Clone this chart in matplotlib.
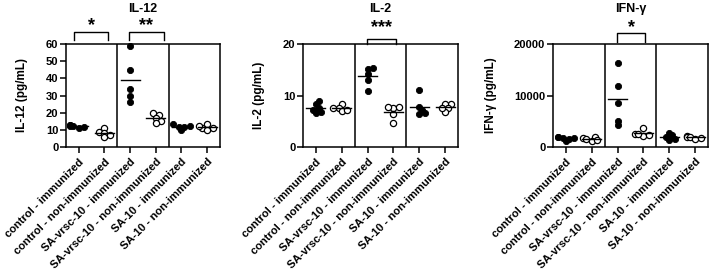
import numpy as np
import matplotlib
matplotlib.use('Agg')
import matplotlib.pyplot as plt
import matplotlib.transforms as mtransforms

plt.rcParams['font.family'] = ['Liberation Sans', 'DejaVu Sans']
plt.rcParams['font.weight'] = 'bold'

groups = ['control - immunized', 'control - non-immunized',
          'SA-vrsc-10 - immunized', 'SA-vrsc-10 - non-immunized',
          'SA-10 - immunized', 'SA-10 - non-immunized']
filled = [True, False, True, False, True, False]

il12 = [[13, 12.3, 12, 11.6, 11, 12.6],
        [11.2, 9, 8.3, 6, 7],
        [59, 45, 34, 30, 26],
        [20, 18.8, 17, 15.2, 14],
        [13.2, 12, 11.5, 10, 11.8],
        [13.5, 11.3, 11, 10, 12]]
il2 = [[9, 8.4, 7.5, 6.7, 6.6, 7.1],
       [8.3, 7.5, 7, 7.2, 7.6],
       [14.2, 15.2, 15.3, 13, 10.9],
       [7.5, 7.7, 6.5, 4.7, 7.8],
       [11.1, 7.7, 6.6, 6.5, 7.1],
       [8.3, 8.3, 7.5, 6.8, 7.5]]
ifng = [[2000, 1900, 1600, 1100, 1800, 1700],
        [1900, 1800, 1500, 1200, 1400],
        [16400, 11800, 8600, 5100, 4300],
        [3600, 2600, 2200, 2300, 2500],
        [2800, 2300, 1900, 1400, 1600],
        [2100, 2000, 1900, 1500, 1800]]

panels = [
    dict(data=il12, title='IL-12', ylabel='IL-12 (pg/mL)', ymax=60, yticks=[0, 10, 20, 30, 40, 50, 60],
         left=66, right=220, ylab_x=-0.25,
         brackets=[(-0.2, 1.15, 1.04, 1.117, '*', 1.18), (1.95, 3.3, 1.04, 1.117, '**', 1.18)]),
    dict(data=il2, title='IL-2', ylabel='IL-2 (pg/mL)', ymax=20, yticks=[0, 10, 20],
         left=303, right=458, ylab_x=-0.245,
         brackets=[(1.98, 3.1, 1.0, 1.05, '***', 1.155)]),
    dict(data=ifng, title='IFN-\u03b3', ylabel='IFN-\u03b3 (pg/mL)', ymax=20000, yticks=[0, 10000, 20000],
         left=553, right=708, ylab_x=-0.36,
         brackets=[(1.98, 3.06, 1.02, 1.108, '*', 1.16)]),
]

W, H = 709, 274
fig = plt.figure(figsize=(W / 100, H / 100), dpi=100)
top_px, bot_px = 44, 147
diam = 6.2  # marker diameter px


def swarm(ax, vals, xc):
    # simple beeswarm in pixel space, points allowed to overlap a bit
    pts = ax.transData.transform(np.column_stack([np.full(len(vals), xc), vals]))
    placed = []
    order = np.argsort(vals)
    xs = np.zeros(len(vals))
    for i in order:
        y = pts[i, 1]
        for k in [0, 1, -1, 2, -2, 3, -3]:
            x = pts[i, 0] + k * diam * 0.45
            if all((x - px) ** 2 + (y - py) ** 2 >= (diam * 0.6) ** 2 for px, py in placed):
                break
        placed.append((x, y))
        xs[i] = x
    inv = ax.transData.inverted()
    return inv.transform(np.column_stack([xs, pts[:, 1]]))[:, 0]


for p in panels:
    ax = fig.add_axes([p['left'] / W, 1 - bot_px / H, (p['right'] - p['left']) / W, (bot_px - top_px) / H])
    ax.set_xlim(-0.5, 5.5)
    ax.set_ylim(0, p['ymax'])
    ax.set_yticks(p['yticks'])
    ax.set_xticks(range(6))
    ax.set_xticklabels(groups, rotation=45, ha='right', rotation_mode='anchor', fontsize=8, fontweight='bold')
    ax.tick_params(axis='both', direction='out', length=4, width=1.1, labelsize=8)
    ax.tick_params(axis='x', pad=3)
    ax.tick_params(axis='y', pad=1.5)
    for s in ax.spines.values():
        s.set_linewidth(1.1)
    for xd in [1.5, 3.5]:
        ax.axvline(xd, color='black', lw=1.1)
    for i, vals in enumerate(p['data']):
        vals = np.array(vals, dtype=float)
        xs = swarm(ax, vals, i)
        if filled[i]:
            ax.scatter(xs, vals, s=diam ** 2 * 0.52, facecolor='black', edgecolor='black', lw=0.6, zorder=3, clip_on=False)
        else:
            ax.scatter(xs, vals, s=diam ** 2 * 0.52, facecolor='white', edgecolor='black', lw=0.9, zorder=3, clip_on=False)
        m = vals.mean()
        ax.plot([i - 0.37, i + 0.37], [m, m], color='black', lw=1.0, zorder=4)
    ax.set_ylabel(p['ylabel'], fontsize=8.5, fontweight='bold')
    ax.yaxis.set_label_coords(p['ylab_x'], 0.5)
    ax.text(0.5, 1.34, p['title'], transform=ax.transAxes, ha='center', va='center', fontsize=9, fontweight='bold')
    trans = mtransforms.blended_transform_factory(ax.transData, ax.transAxes)
    for x0, x1, y0, y1, star, ys in p['brackets']:
        ax.plot([x0, x0, x1, x1], [y0, y1, y1, y0], color='black', lw=1.0, transform=trans, clip_on=False)
        ax.text((x0 + x1) / 2, ys, star, transform=trans, ha='center', va='center', fontsize=13, fontweight='bold')

fig.savefig('out.png', dpi=100)
